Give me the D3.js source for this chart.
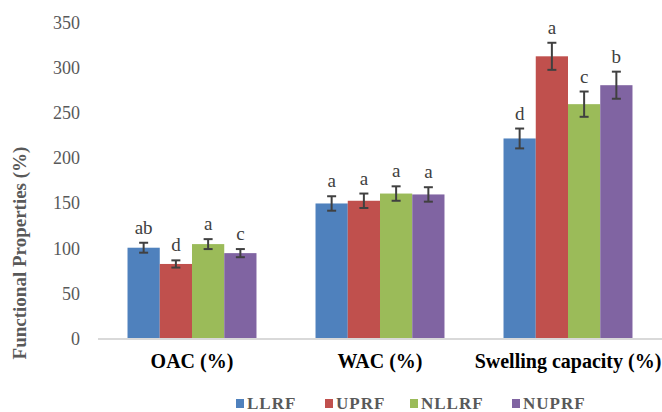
<!DOCTYPE html>
<html>
<head>
<meta charset="utf-8">
<script src="https://cdn.jsdelivr.net/npm/d3@7"></script>
<style>
  body { margin: 0; background: #fff; }
  text { font-family: "Liberation Serif", "Times New Roman", serif; }
</style>
</head>
<body>
<div id="chart"></div>
<script>
// chart data
const categories = ["OAC (%)", "WAC (%)", "Swelling capacity (%)"];
const seriesNames = ["LLRF", "UPRF", "NLLRF", "NUPRF"];
const seriesColors = ["#4F81BD", "#C0504D", "#9BBB59", "#8064A2"];
// values per series, in category order
const llrf = [100, 149, 221];
const uprf = [82, 152, 312];
const nllrf = [104, 160, 259];
const nuprf = [94, 159, 280];
const llrfErr = [5.5, 8, 11];
const uprfErr = [4, 8, 15];
const nllrfErr = [5.5, 8, 14];
const nuprfErr = [4.5, 8, 15];
const llrfLetters = ["ab", "a", "d"];
const uprfLetters = ["d", "a", "a"];
const nllrfLetters = ["a", "a", "c"];
const nuprfLetters = ["c", "a", "b"];
const yTicks = [0, 50, 100, 150, 200, 250, 300, 350];

const values = [llrf, uprf, nllrf, nuprf];
const errors = [llrfErr, uprfErr, nllrfErr, nuprfErr];
const letters = [llrfLetters, uprfLetters, nllrfLetters, nuprfLetters];

const width = 662, height = 412;
const margin = { top: 22, right: 0, bottom: 74, left: 98 };
const innerW = width - margin.left - margin.right;
const innerH = height - margin.top - margin.bottom;

const svg = d3.select("#chart").append("svg")
  .attr("width", width)
  .attr("height", height);

const g = svg.append("g")
  .attr("transform", "translate(" + margin.left + "," + margin.top + ")");

// scales
const x0 = d3.scaleBand()
  .domain(categories)
  .range([0, 564])
  .paddingInner(0.314)
  .paddingOuter(0.157);

const x1 = d3.scaleBand()
  .domain(seriesNames)
  .range([0, x0.bandwidth()]);

const y = d3.scaleLinear()
  .domain([0, 350])
  .range([innerH, 0]);

// flatten to one record per bar
const bars = [];
categories.forEach((c, ci) => {
  seriesNames.forEach((s, si) => {
    bars.push({
      cat: c, series: s, color: seriesColors[si],
      value: values[si][ci], err: errors[si][ci], letter: letters[si][ci]
    });
  });
});

// y axis tick labels (no line, no ticks)
const yAxis = d3.axisLeft(y).tickValues(yTicks).tickSize(0).tickPadding(18);
const yg = g.append("g").call(yAxis);
yg.select(".domain").remove();
yg.selectAll("text")
  .attr("fill", "#595959")
  .style("font-size", "18px")
  .attr("dy", "0.35em");

// bars
g.selectAll(".bar")
  .data(bars)
  .enter()
  .append("rect")
  .attr("class", "bar")
  .attr("x", d => x0(d.cat) + x1(d.series))
  .attr("width", x1.bandwidth())
  .attr("y", d => y(d.value))
  .attr("height", d => innerH - y(d.value))
  .attr("fill", d => d.color);

// error bars
const eb = g.selectAll(".err")
  .data(bars)
  .enter()
  .append("g")
  .attr("class", "err")
  .attr("stroke", "#404040")
  .attr("stroke-width", 2);

eb.append("line")
  .attr("x1", d => x0(d.cat) + x1(d.series) + x1.bandwidth() / 2)
  .attr("x2", d => x0(d.cat) + x1(d.series) + x1.bandwidth() / 2)
  .attr("y1", d => y(d.value + d.err))
  .attr("y2", d => y(d.value - d.err));

eb.selectAll(".cap")
  .data(d => [d.value + d.err, d.value - d.err].map(v => ({ d: d, v: v })))
  .enter()
  .append("line")
  .attr("x1", e => x0(e.d.cat) + x1(e.d.series) + x1.bandwidth() / 2 - 4.5)
  .attr("x2", e => x0(e.d.cat) + x1(e.d.series) + x1.bandwidth() / 2 + 4.5)
  .attr("y1", e => y(e.v))
  .attr("y2", e => y(e.v));

// significance letters
g.selectAll(".letter")
  .data(bars)
  .enter()
  .append("text")
  .attr("class", "letter")
  .attr("x", d => x0(d.cat) + x1(d.series) + x1.bandwidth() / 2)
  .attr("y", d => y(d.value + d.err) - 9)
  .attr("text-anchor", "middle")
  .attr("fill", "#404040")
  .style("font-size", "19px")
  .text(d => d.letter);

// baseline
g.append("line")
  .attr("x1", 0)
  .attr("x2", innerW)
  .attr("y1", innerH + 1)
  .attr("y2", innerH + 1)
  .attr("stroke", "#d9d9d9")
  .attr("stroke-width", 2);

// category labels
g.selectAll(".cat")
  .data(categories)
  .enter()
  .append("text")
  .attr("class", "cat")
  .attr("x", d => x0(d) + x0.bandwidth() / 2)
  .attr("y", innerH + 30)
  .attr("text-anchor", "middle")
  .attr("fill", "#000")
  .style("font-size", "20px")
  .style("font-weight", "bold")
  .text(d => d);

// y axis title
svg.append("text")
  .attr("transform", "translate(26," + 253 + ") rotate(-90)")
  .attr("text-anchor", "middle")
  .attr("fill", "#595959")
  .style("font-size", "19px")
  .style("font-weight", "bold")
  .text("Functional Properties (%)");

// legend
const legendX = [236, 325, 410, 512];
const legend = svg.selectAll(".legend")
  .data(seriesNames)
  .enter()
  .append("g")
  .attr("class", "legend")
  .attr("transform", (d, i) => "translate(" + legendX[i] + ",398)");

legend.append("rect")
  .attr("width", 8)
  .attr("height", 9)
  .attr("y", 1)
  .attr("fill", (d, i) => seriesColors[i]);

legend.append("text")
  .attr("x", 11)
  .attr("y", 11)
  .attr("fill", "#595959")
  .style("font-size", "17px")
  .style("letter-spacing", "1px")
  .style("font-weight", "bold")
  .text(d => d);
</script>
</body>
</html>
